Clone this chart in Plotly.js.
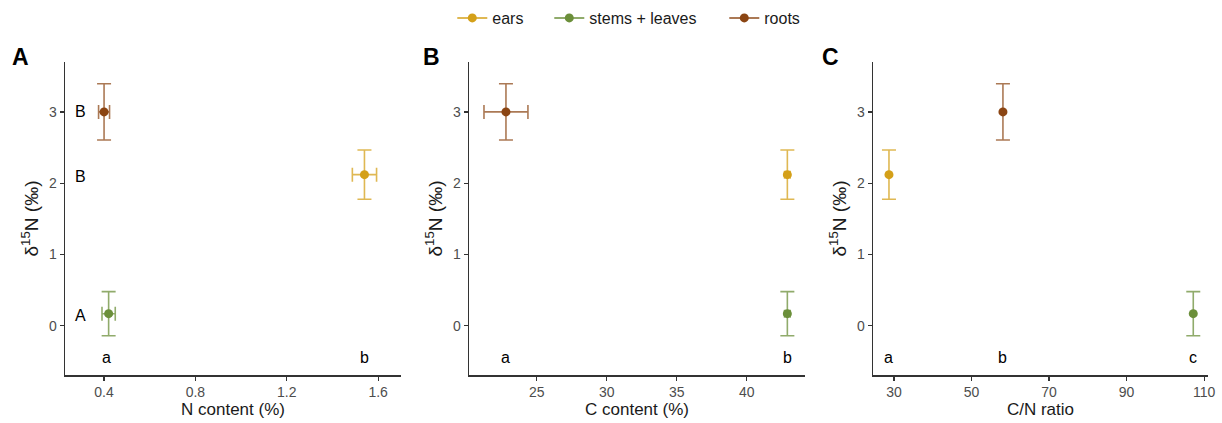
<!DOCTYPE html>
<html><head><meta charset="utf-8">
<script src="https://cdn.plot.ly/plotly-3.0.1.min.js"></script>
<style>body{margin:0;background:#fff}#plot{width:1222px;height:423px}</style>
</head><body><div id="plot"></div>
<script>
const groups = ['ears', 'stems + leaves', 'roots'];
const colors = ['#D4A019', '#6B8F3A', '#8B4513'];
const errColors = ['rgba(212,160,25,0.75)', 'rgba(107,143,58,0.75)', 'rgba(139,69,19,0.72)'];
const d15N = [2.12, 0.17, 3.00];
const d15NErr = [0.345, 0.31, 0.395];
const nContent = [1.54, 0.42, 0.40];
const nErr = [0.053, 0.029, 0.024];
const cContent = [42.9, 42.9, 22.8];
const cErr = [0.2, 0.2, 1.57];
const cnRatio = [28.7, 107.2, 58.1];
const cnErr = [0.6, 0.6, 0.4];
const groupLettersA = ['B', 'A', 'B'];
const groupLettersAPos = [2.1, 0.15, 3.0];
const xLettersA = ['b', 'a'];
const xLettersAPos = [1.54, 0.41];
const xLettersB = ['b', 'a'];
const xLettersBPos = [42.9, 22.8];
const xLettersC = ['a', 'c', 'b'];
const panelLabels = ['A', 'B', 'C'];
const xTitles = ['N content (%)', 'C content (%)', 'C/N ratio'];

const legendWidths = [52, 130, 40];
const panels = [
  {x: nContent, ex: nErr, xa: 'x', ya: 'y', capw: [7, 7, 7]},
  {x: cContent, ex: cErr, xa: 'x2', ya: 'y2', capw: [4, 4, 7]},
  {x: cnRatio, ex: cnErr, xa: 'x3', ya: 'y3', capw: [2, 2, 2]}
];
const traces = [];
panels.forEach((p, pi) => {
  groups.forEach((g, gi) => {
    traces.push({
      type: 'scatter', mode: 'lines+markers', name: g,
      x: [p.x[gi]], y: [d15N[gi]], xaxis: p.xa, yaxis: p.ya,
      showlegend: pi === 0, legendgroup: g, legendwidth: legendWidths[gi],
      marker: {color: colors[gi], size: 9},
      line: {color: errColors[gi], width: 2},
      error_y: {type: 'data', array: [d15NErr[gi]], color: errColors[gi], thickness: 1.6, width: 7},
      error_x: {type: 'data', array: [p.ex[gi]], color: errColors[gi], thickness: 1.6, width: p.capw[gi]},
      hoverinfo: 'x+y'
    });
  });
});

const tickFont = {family: 'Liberation Sans, Arial, sans-serif', size: 14, color: '#4D4D4D'};
const titleFont = {family: 'Liberation Sans, Arial, sans-serif', size: 17, color: '#1a1a1a'};
const yTitleFont = {family: 'Liberation Sans, Arial, sans-serif', size: 19, color: '#1a1a1a'};
function xax(range, dtick, tick0, domain, title, anchor) {
  return {domain: domain, range: range, dtick: dtick, tick0: tick0, anchor: anchor,
    showline: true, linecolor: '#333', linewidth: 1.5, ticks: 'outside', ticklen: 4,
    tickcolor: '#333', tickwidth: 1.2, showgrid: false, zeroline: false, tickfont: tickFont,
    title: {text: title, font: titleFont, standoff: 3}};
}
function yax(anchor) {
  return {domain: [0, 1], range: [-0.69, 3.70], tickvals: [0, 1, 2, 3], anchor: anchor,
    showline: true, linecolor: '#333', linewidth: 1.5, ticks: 'outside', ticklen: 4,
    tickcolor: '#333', tickwidth: 1.2, showgrid: false, zeroline: false, tickfont: tickFont,
    title: {text: 'δ<sup>15</sup>N (‰)', font: yTitleFont, standoff: 5}};
}

const letterFont = {family: 'Liberation Sans, Arial, sans-serif', size: 16, color: '#000'};
const annotations = [];
groupLettersA.forEach((t, gi) => annotations.push({xref: 'x', yref: 'y', x: 0.295, y: groupLettersAPos[gi],
  text: t, showarrow: false, font: letterFont}));
const yLow = -0.44;
xLettersA.forEach((t, i) => annotations.push({xref: 'x', yref: 'y', x: xLettersAPos[i], y: yLow, text: t, showarrow: false, font: letterFont}));
xLettersB.forEach((t, i) => annotations.push({xref: 'x2', yref: 'y2', x: xLettersBPos[i], y: yLow, text: t, showarrow: false, font: letterFont}));
xLettersC.forEach((t, i) => annotations.push({xref: 'x3', yref: 'y3', x: cnRatio[i], y: yLow, text: t, showarrow: false, font: letterFont}));
const panelX = [-45/1143, (431 - 65) / 1143, (830 - 65) / 1143];
panelLabels.forEach((t, i) => annotations.push({xref: 'paper', yref: 'paper', x: panelX[i], y: 1 + 5/313, xanchor: 'center', yanchor: 'middle',
  text: '<b>' + t + '</b>', showarrow: false, font: {family: 'Liberation Sans, Arial, sans-serif', size: 23, color: '#000'}}));

const layout = {
  width: 1222, height: 423,
  margin: {l: 65, r: 14, t: 62, b: 48, autoexpand: false},
  paper_bgcolor: '#fff', plot_bgcolor: '#fff',
  showlegend: true,
  legend: {orientation: 'h', x: 0.495, xanchor: 'center', y: 1 + 44/313, yanchor: 'middle',
    font: {family: 'Liberation Sans, Arial, sans-serif', size: 16, color: '#1a1a1a'}, itemwidth: 30},
  xaxis: xax([0.229, 1.70], 0.4, 0.4, [0, 336/1143], xTitles[0], 'y'),
  xaxis2: xax([20.16, 44.16], 5, 0, [404/1143, 740/1143], xTitles[1], 'y2'),
  xaxis3: xax([24.58, 111.0], 20, 30, [808/1143, 1], xTitles[2], 'y3'),
  yaxis: yax('x'), yaxis2: yax('x2'), yaxis3: yax('x3'),
  annotations: annotations
};
Plotly.newPlot('plot', traces, layout, {displayModeBar: false, staticPlot: true});
</script></body></html>
